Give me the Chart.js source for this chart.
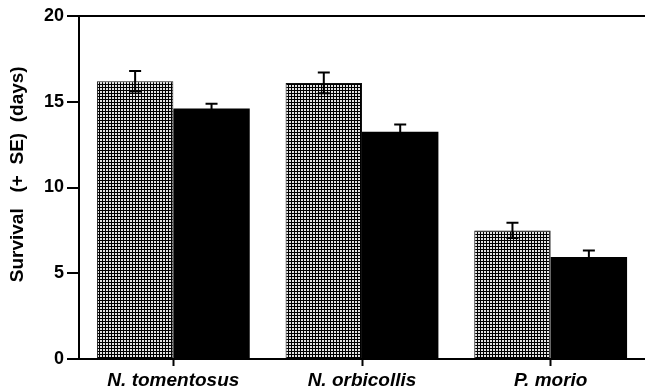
<!DOCTYPE html>
<html lang="en">
<head>
  <meta charset="UTF-8">
  <title>Survival by species</title>
  <script src="https://cdn.jsdelivr.net/npm/chart.js"></script>
  <style>
    body {
      margin: 0;
      background: white;
    }
    #wrap {
      width: 645px;
      height: 391px;
    }
  </style>
</head>
<body>
  <div id="wrap"><canvas id="survivalChart"></canvas></div>

  <script>
    const species = ['N. tomentosus', 'N. orbicollis', 'P. morio'];

    const hatchedMeans = [16.2, 16.1, 7.5];
    const hatchedSE = [0.6, 0.6, 0.45];

    const solidMeans = [14.6, 13.25, 5.95];
    const solidSE = [0.28, 0.42, 0.38];

    const yTicks = [0, 5, 10, 15, 20];

    // fine crosshatch fill for the first series
    function makeHatch() {
      const c = document.createElement('canvas');
      c.width = 3;
      c.height = 3;
      const g = c.getContext('2d');
      g.fillStyle = '#e4e4e4';
      g.fillRect(0, 0, 3, 3);
      g.fillStyle = '#000000';
      g.fillRect(0, 0, 3, 1);
      g.fillRect(0, 0, 1, 3);
      return g.createPattern(c, 'repeat');
    }

    // ± SE whiskers with caps, centred on each bar
    const errorBars = {
      id: 'errorBars',
      afterDatasetsDraw(chart) {
        const g = chart.ctx;
        const y = chart.scales.y;
        const seList = [hatchedSE, solidSE];
        g.save();
        g.strokeStyle = '#000';
        g.lineWidth = 2;
        chart.data.datasets.forEach((ds, di) => {
          const meta = chart.getDatasetMeta(di);
          meta.data.forEach((bar, i) => {
            const hi = y.getPixelForValue(ds.data[i] + seList[di][i]);
            const lo = y.getPixelForValue(ds.data[i] - seList[di][i]);
            const cap = 6;
            g.beginPath();
            g.moveTo(bar.x, hi);
            g.lineTo(bar.x, lo);
            g.moveTo(bar.x - cap, hi);
            g.lineTo(bar.x + cap, hi);
            g.moveTo(bar.x - cap, lo);
            g.lineTo(bar.x + cap, lo);
            g.stroke();
          });
        });
        g.restore();
      }
    };

    const ctx = document.getElementById('survivalChart').getContext('2d');

    new Chart(ctx, {
      type: 'bar',
      data: {
        labels: species,
        datasets: [
          {
            data: hatchedMeans,
            backgroundColor: makeHatch(),
            borderColor: '#111',
            borderWidth: 1,
            categoryPercentage: 0.81,
            barPercentage: 1.0
          },
          {
            data: solidMeans,
            backgroundColor: '#000',
            borderColor: '#000',
            borderWidth: 0,
            categoryPercentage: 0.81,
            barPercentage: 1.0
          }
        ]
      },
      options: {
        responsive: true,
        maintainAspectRatio: false,
        animation: false,
        layout: {
          padding: { top: 16, right: 0, left: 0, bottom: 0 }
        },
        plugins: {
          legend: { display: false },
          tooltip: { enabled: false }
        },
        scales: {
          x: {
            grid: {
              offset: false,
              drawOnChartArea: false,
              tickLength: 7,
              tickColor: '#000',
              tickWidth: 2
            },
            border: { color: '#000', width: 2 },
            ticks: {
              color: '#000',
              padding: 3,
              font: { family: 'Liberation Sans', size: 19, weight: 'bold', style: 'italic' }
            },
            afterFit(scale) { scale.height = 32; }
          },
          y: {
            min: 0,
            max: 20,
            afterBuildTicks(scale) {
              scale.ticks = yTicks.map(v => ({ value: v }));
            },
            grid: {
              color: c => (c.tick && c.tick.value === 20 ? '#000' : 'rgba(0,0,0,0)'),
              lineWidth: 2,
              tickLength: 12,
              tickColor: '#000',
              tickWidth: 2
            },
            border: { color: '#000', width: 2 },
            ticks: {
              color: '#000',
              padding: 3,
              font: { family: 'Liberation Sans', size: 18, weight: 'bold' }
            },
            title: {
              display: true,
              text: '\u00a0\u00a0\u00a0\u00a0\u00a0Survival   (+  SE)  (days)',
              color: '#000',
              padding: { top: 6, bottom: 4 },
              font: { family: 'Liberation Sans', size: 19, weight: 'bold' }
            },
            afterFit(scale) { scale.width = 79; }
          }
        }
      },
      plugins: [errorBars]
    });
  </script>
</body>
</html>
